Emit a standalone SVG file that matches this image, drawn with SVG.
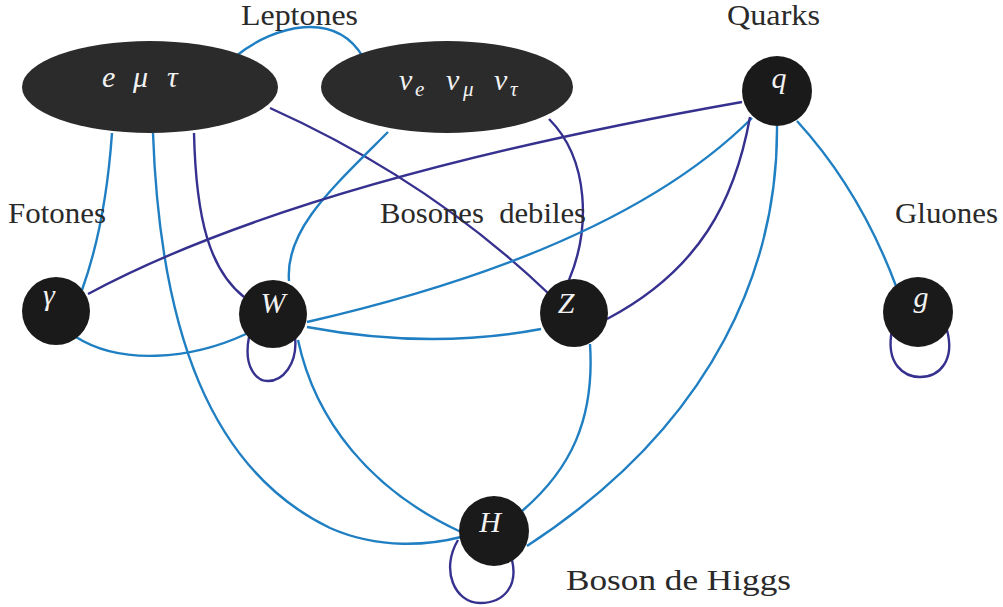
<svg xmlns="http://www.w3.org/2000/svg" width="1003" height="607" viewBox="0 0 1003 607">
<style>
.lb{fill:none;stroke:#1f7fc2;stroke-width:2.4}
.db{fill:none;stroke:#36318f;stroke-width:2.4}
.node{fill:#1a1a1a}
.ell{fill:#2b2b2b}
.cat{font-family:'Liberation Serif','Times New Roman','DejaVu Serif',serif;font-size:30px;fill:#2a2a2a}
.m{font-family:'Liberation Serif','Times New Roman','DejaVu Serif',serif;font-style:italic;font-size:30px;fill:#f2f2f2}
.sub{font-family:'Liberation Serif','Times New Roman','DejaVu Serif',serif;font-style:italic;font-size:21px;fill:#f2f2f2}
</style>
<rect width="1003" height="607" fill="#ffffff"/>
<g id="connectors">
<path class="lb" d="M236,56 C275,25 335,10 363,57"/>
<path class="lb" d="M112,133 C108,190 100,240 82,290"/>
<path class="lb" d="M153,133 C160,330 210,470 330,528 C380,550 430,545 461,537"/>
<path class="db" d="M194,133 C196,220 210,270 244,297"/>
<path class="db" d="M270,108 Q430,180 549,294"/>
<path class="lb" d="M388,132 C330,190 285,230 289,281"/>
<path class="db" d="M549,119 C590,160 590,230 569,280"/>
<path class="db" d="M742,102 Q300,180 88,294"/>
<path class="lb" d="M752,118 Q620,250 307,322"/>
<path class="db" d="M750,117 C735,200 700,270 607,319"/>
<path class="lb" d="M777,126 C778,260 720,420 527,546"/>
<path class="lb" d="M797,121 Q860,190 896,286"/>
<path class="lb" d="M307,327 Q430,350 541,329"/>
<path class="lb" d="M590,344 C595,420 570,470 522,511"/>
<path class="lb" d="M298,340 C315,420 370,490 461,532"/>
<path class="lb" d="M76,337 C120,365 190,360 246,334"/>
<path class="db" d="M249,337 C243,368 257,381 268,381 C282,381 298,365 295,337"/>
<path class="db" d="M892,330 C885,365 905,377 920,377 C940,377 955,360 947,330"/>
<path class="db" d="M458,540 C440,570 455,603 480,603 C505,603 518,585 512,560"/>
</g>
<g id="leptons">
<ellipse class="ell" cx="150" cy="87" rx="128" ry="46"/>
<text class="m" x="102" y="87">e</text>
<text class="m" x="133" y="87">μ</text>
<text class="m" x="167" y="87">τ</text>
</g>
<g id="neutrinos">
<ellipse class="ell" cx="447" cy="87" rx="126" ry="46"/>
<text class="m" x="399" y="90">ν</text><text class="sub" x="415" y="96">e</text>
<text class="m" x="446" y="90">ν</text><text class="sub" x="463" y="96">μ</text>
<text class="m" x="494" y="90">ν</text><text class="sub" x="510" y="96">τ</text>
</g>
<g id="q"><circle class="node" cx="777" cy="91" r="35"/><text class="m" x="779" y="88" text-anchor="middle">q</text></g>
<g id="gamma"><circle class="node" cx="56" cy="311" r="34"/><text class="m" x="49" y="305" text-anchor="middle">γ</text></g>
<g id="W"><circle class="node" cx="273" cy="314" r="34"/><text class="m" x="273" y="313" text-anchor="middle">W</text></g>
<g id="Z"><circle class="node" cx="574" cy="313" r="34"/><text class="m" x="566" y="313" text-anchor="middle">Z</text></g>
<g id="g"><circle class="node" cx="918" cy="312" r="35"/><text class="m" x="921" y="307" text-anchor="middle">g</text></g>
<g id="H"><circle class="node" cx="494" cy="531" r="35"/><text class="m" x="490" y="532" text-anchor="middle">H</text></g>
<g id="labels">
<text class="cat" x="241" y="25" textLength="117" lengthAdjust="spacingAndGlyphs">Leptones</text>
<text class="cat" x="727" y="25" textLength="93" lengthAdjust="spacingAndGlyphs">Quarks</text>
<text class="cat" x="8" y="223" textLength="98" lengthAdjust="spacingAndGlyphs">Fotones</text>
<text class="cat" x="380" y="223" textLength="206" lengthAdjust="spacingAndGlyphs" xml:space="preserve">Bosones  debiles</text>
<text class="cat" x="895" y="223" textLength="103" lengthAdjust="spacingAndGlyphs">Gluones</text>
<text class="cat" x="566" y="590" textLength="225" lengthAdjust="spacingAndGlyphs">Boson de Higgs</text>
</g>
</svg>
